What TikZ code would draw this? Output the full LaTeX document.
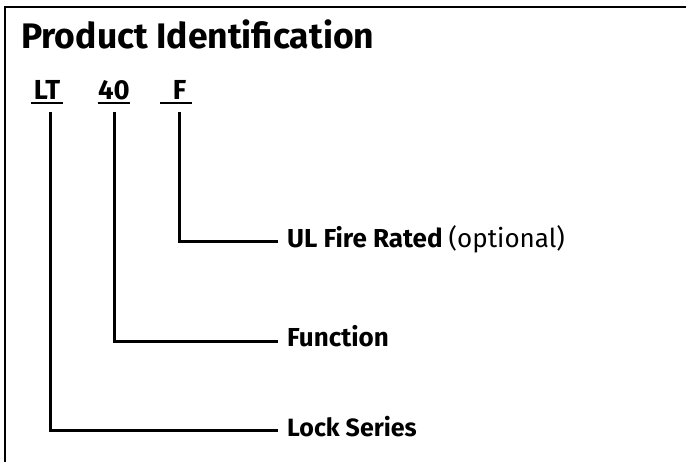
\documentclass[tikz,border=0pt]{standalone}
\usepackage{fontspec}
\setmainfont{Fira Sans}
\usetikzlibrary{calc}
\tikzstyle{code}=[anchor=base, inner sep=0pt, minimum width=31pt, font=\fontsize{27.5}{29}\selectfont\bfseries]
\tikzstyle{lbl}=[anchor=base west, inner sep=0pt, font=\fontsize{26}{28}\selectfont\bfseries]
\tikzstyle{wire}=[line width=3pt]

\begin{document}
\begin{tikzpicture}[x=1pt, y=-1pt]
    \useasboundingbox (0,0) rectangle (686,462);
    \draw[line width=2pt] (4.5,462) -- (4.5,7.5) -- (686,7.5);
    \node[anchor=base west, inner sep=0pt, font=\fontsize{35.5}{38}\selectfont\bfseries] (title) at (21,49) {Product Identification};
    \node[code] (lt) at (47,100) {LT};
    \node[code] (fn) at (114,100) {40};
    \node[code] (fr) at (176,100) {\hspace*{7pt}F};
    \draw[line width=2pt] ([yshift=-3pt]lt.base west) -- ([yshift=-3pt]lt.base east);
    \draw[line width=2pt] ([yshift=-3pt]fn.base west) -- ([yshift=-3pt]fn.base east);
    \draw[line width=2pt] ([yshift=-3pt]fr.base west) -- ([yshift=-3pt]fr.base east);
    \node[lbl] (ul) at (287,248) {UL Fire Rated \mdseries(optional)};
    \node[lbl] (func) at (287,347) {Function};
    \node[lbl, font=\fontsize{25}{27}\selectfont\bfseries] (series) at (287,437) {Lock Series};
    \draw[wire] ([xshift=3pt,yshift=-12pt]fr.base) |- ([xshift=-9pt,yshift=6pt]ul.base west);
    \draw[wire] ([yshift=-12pt]fn.base) |- ([xshift=-9pt,yshift=5pt]func.base west);
    \draw[wire] ([xshift=3pt,yshift=-12pt]lt.base) |- ([xshift=-9pt,yshift=6pt]series.base west);
\end{tikzpicture}
\end{document}
